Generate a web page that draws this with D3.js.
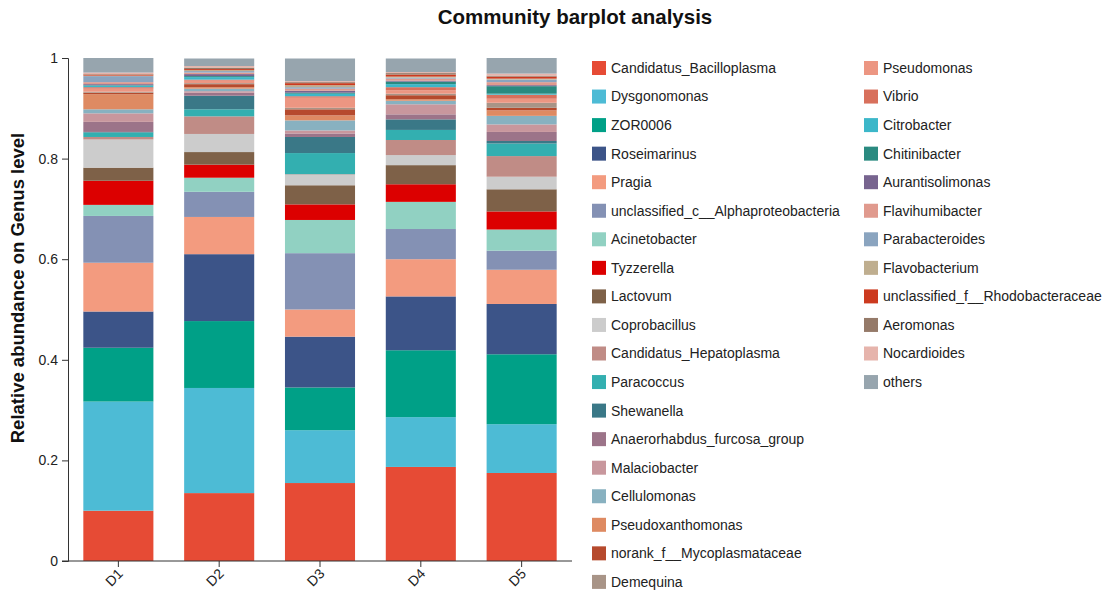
<!DOCTYPE html>
<html>
<head>
<meta charset="utf-8">
<script src="https://cdn.jsdelivr.net/npm/d3@7"></script>
<style>
  body { margin: 0; background: #fff; }
  svg { font-family: Arial, "Liberation Sans", sans-serif; }
</style>
</head>
<body>
<svg id="chart" width="1108" height="594"></svg>
<script>
// Samples on the x axis
const samples = ["D1", "D2", "D3", "D4", "D5"];

// Genera, in stacking order (bottom to top)
const genera = [
  "Candidatus_Bacilloplasma", "Dysgonomonas", "ZOR0006", "Roseimarinus", "Pragia",
  "unclassified_c__Alphaproteobacteria", "Acinetobacter", "Tyzzerella", "Lactovum",
  "Coprobacillus", "Candidatus_Hepatoplasma", "Paracoccus", "Shewanella",
  "Anaerorhabdus_furcosa_group", "Malaciobacter", "Cellulomonas", "Pseudoxanthomonas",
  "norank_f__Mycoplasmataceae", "Demequina", "Pseudomonas", "Vibrio", "Citrobacter",
  "Chitinibacter", "Aurantisolimonas", "Flavihumibacter", "Parabacteroides",
  "Flavobacterium", "unclassified_f__Rhodobacteraceae", "Aeromonas", "Nocardioides", "others"
];

// Relative abundance of each genus per sample (same order as genera)
const D1 = [0.100, 0.217, 0.107, 0.072, 0.097, 0.093, 0.022, 0.048, 0.026, 0.056,
            0.005, 0.009, 0.001, 0.020, 0.017, 0.008, 0.030, 0.003, 0.002, 0.006,
            0.003, 0.003, 0.001, 0.002, 0.004, 0.012, 0.001, 0.002, 0.001, 0.003, 0.029];
const D2 = [0.135, 0.209, 0.133, 0.133, 0.074, 0.050, 0.028, 0.026, 0.025, 0.036,
            0.035, 0.014, 0.027, 0.006, 0.003, 0.005, 0.003, 0.006, 0.002, 0.005,
            0.002, 0.005, 0.002, 0.004, 0.003, 0.003, 0.002, 0.002, 0.003, 0.003, 0.015];
const D3 = [0.155, 0.105, 0.085, 0.101, 0.054, 0.112, 0.066, 0.031, 0.038, 0.021,
            0.001, 0.042, 0.032, 0.007, 0.006, 0.020, 0.010, 0.012, 0.003, 0.020,
            0.003, 0.005, 0.002, 0.004, 0.004, 0.003, 0.004, 0.004, 0.002, 0.002, 0.045];
const D4 = [0.187, 0.099, 0.133, 0.107, 0.074, 0.060, 0.054, 0.035, 0.038, 0.020,
            0.030, 0.020, 0.021, 0.010, 0.020, 0.007, 0.003, 0.008, 0.003, 0.007,
            0.006, 0.006, 0.005, 0.002, 0.004, 0.002, 0.002, 0.004, 0.003, 0.002, 0.027];
const D5 = [0.175, 0.097, 0.139, 0.100, 0.068, 0.038, 0.042, 0.036, 0.044, 0.025,
            0.041, 0.025, 0.005, 0.018, 0.015, 0.017, 0.011, 0.005, 0.010, 0.008,
            0.008, 0.002, 0.015, 0.002, 0.006, 0.005, 0.002, 0.004, 0.002, 0.004, 0.031];

// Fill colour of each genus
const colors = [
  "#E64B35", "#4DBBD5", "#00A087", "#3C5488", "#F39B7F",
  "#8491B4", "#91D1C2", "#DC0000", "#7E6148", "#CCCCCC",
  "#C08C86", "#33AFB0", "#3A7887", "#9C7489", "#C8979D",
  "#88B1C0", "#DE8A62", "#B64A2D", "#A89487", "#EC9682",
  "#D8705C", "#3CB7C9", "#2A8A80", "#77648F", "#E09A8E",
  "#8AA4BF", "#BFAE8F", "#CC3A1F", "#957A69", "#E6B4AC", "#97A5AE"
];

// Y axis ticks
const yTicks = [0, 0.2, 0.4, 0.6, 0.8, 1];
const yTickLabels = ["0", "0.2", "0.4", "0.6", "0.8", "1"];

const sampleValues = [D1, D2, D3, D4, D5];
const rows = samples.map((s, i) => {
  const row = { sample: s };
  genera.forEach((g, j) => { row[g] = sampleValues[i][j]; });
  return row;
});

const svg = d3.select("#chart");
const plotLeft = 68, plotRight = 572, plotTop = 58, plotBottom = 561;

const x = d3.scaleBand().domain(samples).range([plotLeft, plotRight]).paddingInner(0.305).paddingOuter(0.152);
const y = d3.scaleLinear().domain([0, 1]).range([plotBottom, plotTop]);
const color = d3.scaleOrdinal().domain(genera).range(colors);

const series = d3.stack().keys(genera)(rows);

// Stacked bars
svg.append("g")
  .selectAll("g")
  .data(series)
  .join("g")
  .attr("fill", d => color(d.key))
  .selectAll("rect")
  .data(d => d)
  .join("rect")
  .attr("x", d => x(d.data.sample))
  .attr("width", x.bandwidth())
  .attr("y", d => y(d[1]))
  .attr("height", d => Math.max(0, y(d[0]) - y(d[1])));

// Y axis
const yAxis = d3.axisLeft(y).tickValues(yTicks)
  .tickFormat((d, i) => yTickLabels[i]).tickSizeOuter(0).tickSize(6).tickPadding(4);
const gy = svg.append("g").attr("transform", `translate(${plotLeft},0)`).call(yAxis);
gy.selectAll("text").attr("font-size", 14).attr("fill", "#222").attr("font-family", "Arial, 'Liberation Sans', sans-serif");
gy.selectAll("line, path").attr("stroke", "#333");

// X axis
const xAxis = d3.axisBottom(x).tickSizeOuter(0).tickSize(6).tickPadding(4);
const gx = svg.append("g").attr("transform", `translate(0,${plotBottom})`).call(xAxis);
gx.select("path.domain").attr("d", `M${plotLeft - 6},0H${plotRight}`).attr("stroke", "#333");
gx.selectAll("line").attr("stroke", "#333");
gx.selectAll("text")
  .attr("font-size", 14).attr("fill", "#222")
  .attr("font-family", "Arial, 'Liberation Sans', sans-serif")
  .attr("text-anchor", "end")
  .attr("x", 0).attr("y", 0)
  .attr("dy", "0.35em")
  .attr("transform", "translate(2,10) rotate(-45)");

// Title
svg.append("text")
  .attr("x", 575).attr("y", 24)
  .attr("text-anchor", "middle")
  .attr("font-size", 20.5).attr("font-weight", "bold").attr("fill", "#111")
  .text("Community barplot analysis");

// Y axis title
svg.append("text")
  .attr("transform", `translate(24,288) rotate(-90)`)
  .attr("text-anchor", "middle")
  .attr("font-size", 18.5).attr("font-weight", "bold").attr("fill", "#111")
  .text("Relative abundance on Genus level");

// Legend: two columns
const perCol = 19;
const legend = svg.append("g")
  .selectAll("g")
  .data(genera)
  .join("g")
  .attr("transform", (d, i) => {
    const col = Math.floor(i / perCol), r = i % perCol;
    return `translate(${592 + col * 272},${68 + r * 28.55})`;
  });
legend.append("rect")
  .attr("x", 0).attr("y", -7).attr("width", 14).attr("height", 14)
  .attr("fill", d => color(d));
legend.append("text")
  .attr("x", 19).attr("y", 0).attr("dy", "0.35em")
  .attr("font-size", 14).attr("fill", "#222")
  .text(d => d);
</script>
</body>
</html>
